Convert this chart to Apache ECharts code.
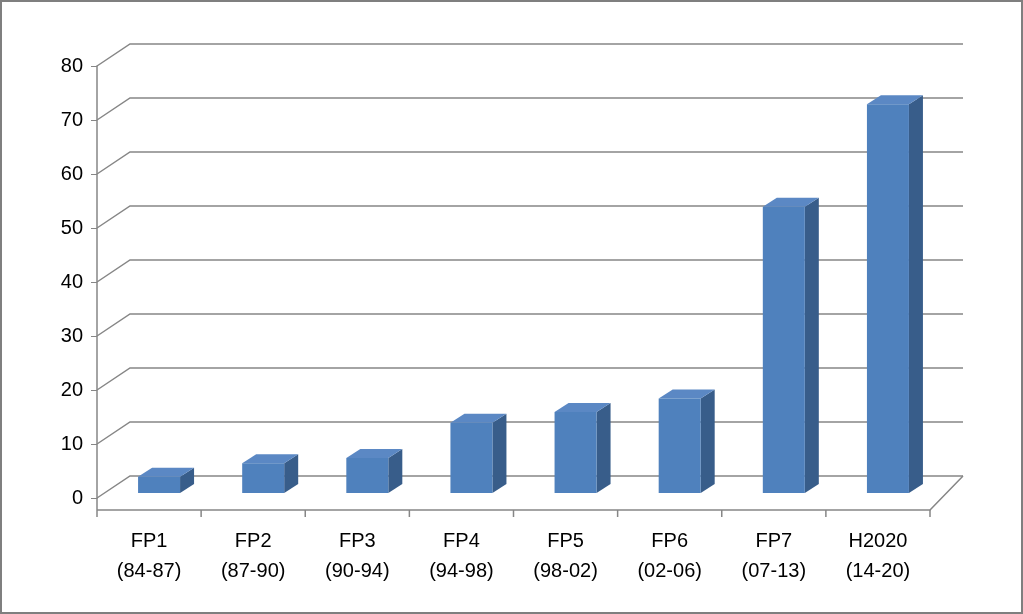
<!DOCTYPE html>
<html><head><meta charset="utf-8">
<script src="https://cdn.jsdelivr.net/npm/echarts@6/dist/echarts.min.js"></script>
<style>html,body{margin:0;padding:0;background:#fff}#c{width:1019px;height:610px;border:2px solid #7f7f7f}</style>
</head><body><div id="c"></div>
<script>
const categories = ['FP1\n(84-87)','FP2\n(87-90)','FP3\n(90-94)','FP4\n(94-98)','FP5\n(98-02)','FP6\n(02-06)','FP7\n(07-13)','H2020\n(14-20)'];
const values = [3, 5.5, 6.5, 13, 15, 17.5, 53, 72];
const ticks = [0,10,20,30,40,50,60,70,80];

const chart = echarts.init(document.getElementById('c'));
const DX = 33, DY = -22, GRAY = '#868686';
chart.setOption({
  animation:false,
  grid:{left:95,right:91,top:64,bottom:114},
  xAxis:{type:'category',data:categories,axisLine:{show:false},axisTick:{show:false},
    axisLabel:{fontSize:20,color:'#000',fontFamily:'Liberation Sans, Arial',lineHeight:30,margin:28}},
  yAxis:{type:'value',min:0,max:80,interval:10,splitLine:{show:false},
    axisLine:{show:true,lineStyle:{color:GRAY,width:1.5}},
    axisTick:{show:true,length:6,lineStyle:{color:GRAY}},
    axisLabel:{fontSize:20,color:'#000',fontFamily:'Liberation Sans, Arial',margin:14}},
  series:[
    {type:'custom',data:ticks.map(t=>[0,t]),z:1,silent:true,
     renderItem:(p,api)=>{
       const v=api.value(1), band=api.size([1,0])[0];
       const c0=api.coord([0,v]), x0=c0[0]-band/2, y=c0[1];
       const xR=api.coord([categories.length-1,v])[0]+band/2;
       const ls={stroke:GRAY,lineWidth:1.5,fill:null};
       const ch=[{type:'polyline',shape:{points:[[x0,y],[x0+DX,y+DY],[xR+DX,y+DY]]},style:ls}];
       if(v===0){
         ch.push({type:'line',shape:{x1:x0,y1:y,x2:x0,y2:y+12},style:ls});
         ch.push({type:'polyline',shape:{points:[[x0,y+12],[xR,y+12],[xR+DX,y+DY]]},style:ls});
         for(let i=0;i<=categories.length;i++){
           const xx=x0+i*band;
           ch.push({type:'line',shape:{x1:xx,y1:y+12,x2:xx,y2:y+19},style:ls});
         }
       }
       return {type:'group',children:ch};
     }},
    {type:'custom',data:values.map((v,i)=>[i,v]),z:5,silent:true,
     renderItem:(p,api)=>{
       const i=api.value(0), v=api.value(1);
       const c=api.coord([i,v]), b=api.coord([i,0]);
       const w=42, dx=14, dy=-9, sx=10, sy=-5;
       const l=c[0]+sx-w/2, r=l+w, t=c[1]+sy, bt=b[1]+sy;
       return {type:'group',children:[
         {type:'polygon',shape:{points:[[r,bt],[r+dx,bt+dy],[r+dx,t+dy],[r,t]]},style:{fill:'#385D8A'}},
         {type:'polygon',shape:{points:[[l,t],[l+dx,t+dy],[r+dx,t+dy],[r,t]]},style:{fill:'#5B88C4'}},
         {type:'rect',shape:{x:l,y:t,width:w,height:bt-t},style:{fill:'#4F81BD'}}
       ]};
     }}
  ]
});
</script></body></html>
